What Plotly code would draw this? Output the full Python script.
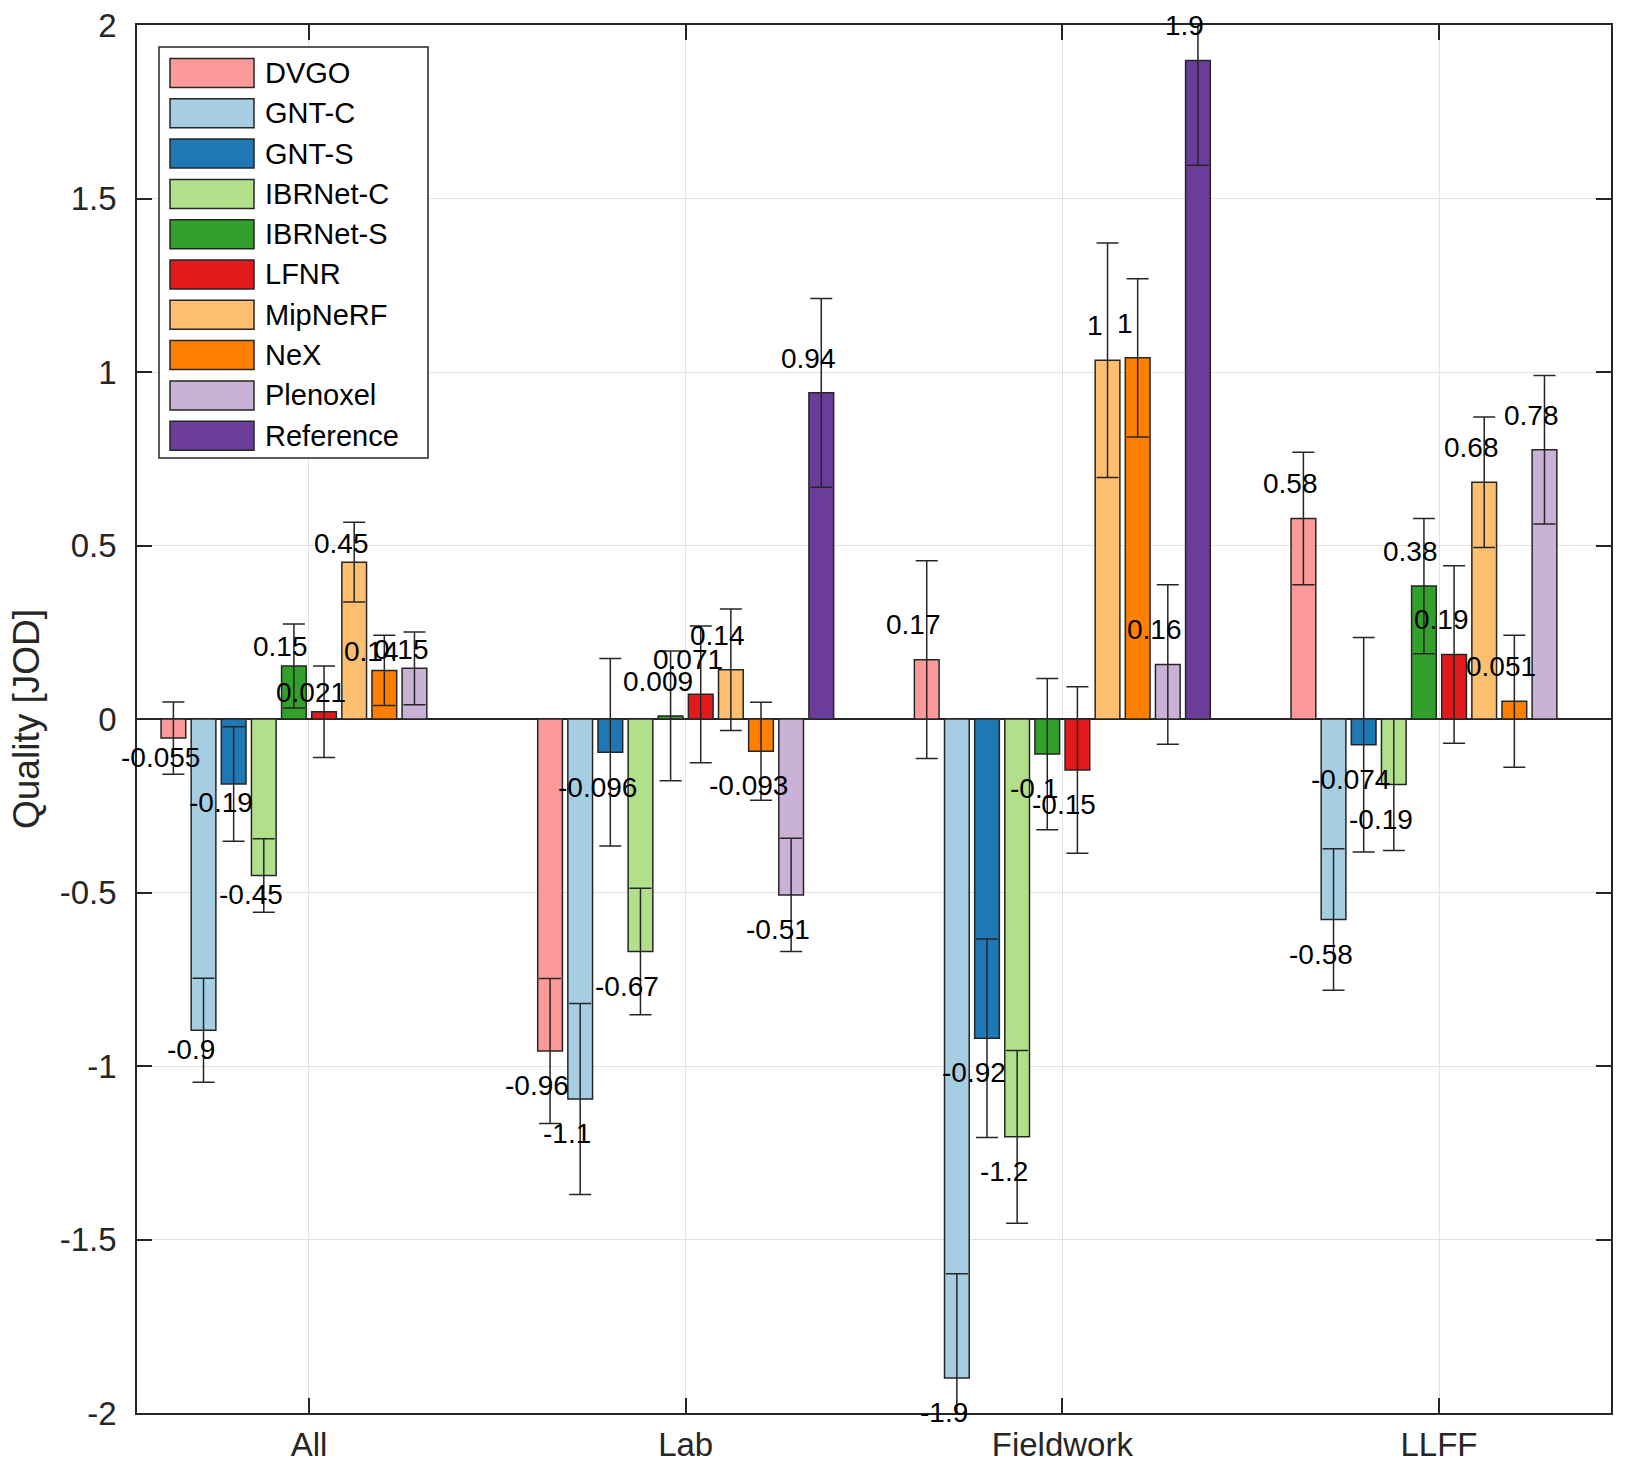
import plotly.graph_objects as go

groups = ["All", "Lab", "Fieldwork", "LLFF"]
methods = ["DVGO", "GNT-C", "GNT-S", "IBRNet-C", "IBRNet-S", "LFNR",
           "MipNeRF", "NeX", "Plenoxel", "Reference"]
colors = ["#fb9a99", "#a6cee3", "#1f78b4", "#b2df8a", "#33a02c", "#e31a1c",
          "#fdbf6f", "#ff7f00", "#cab2d6", "#6a3d9a"]

# quality [JOD] per method, order: All, Lab, Fieldwork, LLFF
dvgo = [-0.055, -0.957, 0.171, 0.578]
gnt_c = [-0.897, -1.095, -1.899, -0.578]
gnt_s = [-0.187, -0.096, -0.920, -0.074]
ibrnet_c = [-0.451, -0.670, -1.204, -0.189]
ibrnet_s = [0.153, 0.009, -0.101, 0.383]
lfnr = [0.021, 0.071, -0.147, 0.186]
mipnerf = [0.452, 0.142, 1.034, 0.682]
nex = [0.140, -0.093, 1.041, 0.051]
plenoxel = [0.146, -0.507, 0.157, 0.776]
reference = [0.0, 0.940, 1.898, 0.0]

# confidence interval half-widths, same order
dvgo_ci = [0.104, 0.209, 0.285, 0.191]
gnt_c_ci = [0.150, 0.275, 0.300, 0.204]
gnt_s_ci = [0.165, 0.270, 0.286, 0.309]
ibrnet_c_ci = [0.106, 0.182, 0.249, 0.190]
ibrnet_s_ci = [0.121, 0.187, 0.218, 0.195]
lfnr_ci = [0.132, 0.197, 0.240, 0.256]
mipnerf_ci = [0.115, 0.175, 0.338, 0.188]
nex_ci = [0.101, 0.141, 0.228, 0.190]
plenoxel_ci = [0.105, 0.163, 0.230, 0.214]
reference_ci = [0.0, 0.272, 0.302, 0.0]

ytick_vals = [-2, -1.5, -1, -0.5, 0, 0.5, 1, 1.5, 2]
ytick_text = ["-2", "-1.5", "-1", "-0.5", "0", "0.5", "1", "1.5", "2"]

quality = [dvgo, gnt_c, gnt_s, ibrnet_c, ibrnet_s, lfnr, mipnerf, nex, plenoxel, reference]
ci = [dvgo_ci, gnt_c_ci, gnt_s_ci, ibrnet_c_ci, ibrnet_s_ci, lfnr_ci, mipnerf_ci,
      nex_ci, plenoxel_ci, reference_ci]

FONT = "Liberation Sans"
DARK = "#262626"
W, H = 1625, 1465
ML, MR, MT, MB = 137, 14, 25, 52
bargap = 0.2
slot = (1 - bargap) / len(methods)
# distance of the value text from the bar end, per group (data units)
label_gap = [0.055, 0.10, 0.10, 0.10]

fig = go.Figure()
for m, c, vals, err in zip(methods, colors, quality, ci):
    fig.add_trace(go.Bar(
        x=groups, y=vals, name=m,
        marker=dict(color=c, line=dict(color=DARK, width=1.5)),
        error_y=dict(type="data", array=err, color=DARK, thickness=1.5, width=11),
        showlegend=False,
    ))

# value labels next to the bar ends
annotations = []
for i, vals in enumerate(quality):
    for g, v in enumerate(vals):
        if v == 0:
            continue
        annotations.append(dict(
            x=g + (i - (len(methods) - 1) / 2) * slot,
            y=v + (label_gap[g] if v > 0 else -label_gap[g]),
            xref="x", yref="y", text=f"{v:.2g}", showarrow=False, xshift=-13,
            yanchor="middle",
            font=dict(family=FONT, size=28, color="black"),
        ))

# legend box drawn by hand to get the wide matlab swatches
pw, ph = W - ML - MR, H - MT - MB
def px(x):
    return (x - ML) / pw
def py(y):
    return (H - MB - y) / ph

shapes = [dict(type="rect", xref="paper", yref="paper", x0=px(159), x1=px(428),
               y0=py(458), y1=py(47), line=dict(color=DARK, width=1.5),
               fillcolor="white", layer="above")]
for i, (m, c) in enumerate(zip(methods, colors)):
    yc = 73 + 40.3 * i
    shapes.append(dict(type="rect", xref="paper", yref="paper", x0=px(170), x1=px(254),
                       y0=py(yc + 14.5), y1=py(yc - 14.5), fillcolor=c,
                       line=dict(color=DARK, width=1.5), layer="above"))
    annotations.append(dict(x=px(263), y=py(yc), xref="paper", yref="paper", text=m,
                            showarrow=False, xanchor="left", yanchor="middle",
                            font=dict(family=FONT, size=29, color="black")))

axis_style = dict(showline=True, linecolor=DARK, linewidth=1.5, mirror="ticks",
                  ticks="inside", ticklen=15, tickwidth=1.5, tickcolor=DARK,
                  showgrid=True, gridcolor="#e3e3e3", gridwidth=1, automargin=False,
                  tickfont=dict(family=FONT, size=33, color=DARK))

fig.update_layout(
    width=W, height=H,
    margin=dict(l=ML, r=MR, t=MT, b=MB),
    plot_bgcolor="white", paper_bgcolor="white",
    barmode="group", bargap=bargap, bargroupgap=0.18,
    font=dict(family=FONT, color=DARK),
    xaxis=dict(type="category", range=[-0.4566, 3.4566], ticklabelstandoff=2, **axis_style),
    yaxis=dict(range=[-2, 2], tickvals=ytick_vals, ticktext=ytick_text,
               zeroline=True, zerolinecolor=DARK, zerolinewidth=1.5,
               ticklabelstandoff=12,
               title=dict(text="Quality [JOD]", font=dict(family=FONT, size=37, color=DARK),
                          standoff=9),
               **axis_style),
    annotations=annotations,
    shapes=shapes,
)

fig.write_html("out.html", config={"displayModeBar": False},
               post_script="document.body.style.margin='0';")
